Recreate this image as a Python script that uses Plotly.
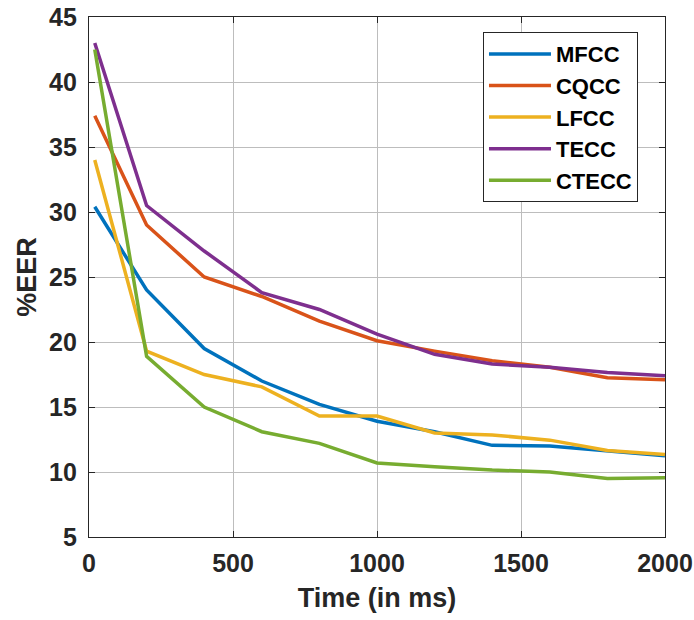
import plotly.graph_objects as go

# Segment duration (ms)
time_ms = [20, 200, 400, 600, 800, 1000, 1200, 1400, 1600, 1800, 2000]

# %EER per feature set
mfcc = [30.4, 24.0, 19.5, 17.0, 15.2, 13.9, 13.1, 12.05, 12.0, 11.65, 11.25]
cqcc = [37.4, 29.0, 25.0, 23.5, 21.6, 20.1, 19.3, 18.55, 18.05, 17.25, 17.1]
lfcc = [34.0, 19.3, 17.5, 16.55, 14.3, 14.3, 13.0, 12.85, 12.45, 11.65, 11.35]
tecc = [43.0, 30.5, 27.0, 23.8, 22.5, 20.6, 19.05, 18.3, 18.05, 17.65, 17.4]
ctecc = [42.5, 18.9, 15.0, 13.1, 12.2, 10.7, 10.4, 10.15, 10.0, 9.5, 9.55]

series = [
    ("MFCC", mfcc, "#0072BD"),
    ("CQCC", cqcc, "#D95319"),
    ("LFCC", lfcc, "#EDB120"),
    ("TECC", tecc, "#7E2F8E"),
    ("CTECC", ctecc, "#77AC30"),
]

x_ticks = [0, 500, 1000, 1500, 2000]
y_ticks = [5, 10, 15, 20, 25, 30, 35, 40, 45]

fig = go.Figure()
for name, vals, color in series:
    fig.add_trace(go.Scatter(
        x=time_ms, y=vals, name=name, mode="lines",
        line=dict(color=color, width=3.5),
    ))

font_family = "Arial, Liberation Sans, sans-serif"
text_color = "#262626"
axis_common = dict(
    automargin=False,
    showline=True, linecolor=text_color, linewidth=1.3, mirror="ticks",
    ticks="inside", ticklen=6, tickcolor=text_color, tickwidth=1,
    showgrid=True, gridcolor="#bdbdbd", gridwidth=1, zeroline=False,
    tickfont=dict(family=font_family, size=25, color=text_color, weight="bold"),
)

fig.update_layout(
    width=694, height=620,
    margin=dict(l=89, r=29, t=17, b=83),
    paper_bgcolor="white", plot_bgcolor="white",
    font=dict(family=font_family, color=text_color),
    xaxis=dict(
        range=[0, 2000], tickvals=x_ticks, ticklabelstandoff=4,
        title=dict(text="Time (in ms)", standoff=11,
                   font=dict(family=font_family, size=27, color=text_color, weight="bold")),
        **axis_common,
    ),
    yaxis=dict(
        range=[5, 45], tickvals=y_ticks, ticklabelstandoff=6,
        title=dict(text="%EER", standoff=4,
                   font=dict(family=font_family, size=27, color=text_color, weight="bold")),
        **axis_common,
    ),
    legend=dict(
        x=0.684, y=0.971, xanchor="left", yanchor="top",
        bgcolor="white", bordercolor=text_color, borderwidth=1,
        font=dict(family=font_family, size=22, color="black", weight="bold"),
        itemwidth=62, tracegroupgap=0,
    ),
    showlegend=True,
)

fig.write_html("out.html")
